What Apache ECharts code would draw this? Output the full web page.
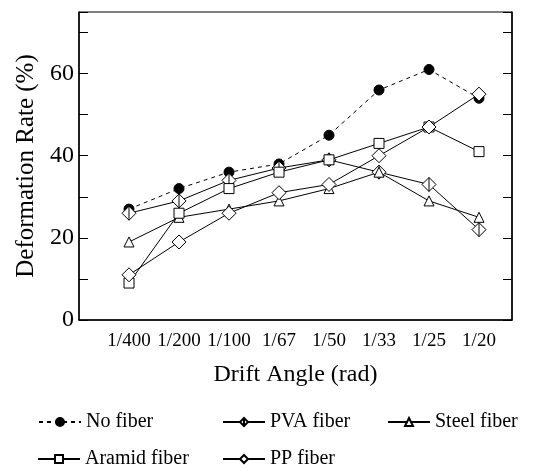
<!DOCTYPE html>
<html>
<head>
<meta charset="utf-8">
<script src="https://cdn.jsdelivr.net/npm/echarts@6/dist/echarts.min.js"></script>
<style>
html,body{margin:0;padding:0;background:#fff;}
#chart{width:558px;height:475px;}
</style>
</head>
<body>
<div id="chart"></div>
<script>
// drift angle categories
var angles=['1/400','1/200','1/100','1/67','1/50','1/33','1/25','1/20'];
// deformation rate (%)
var noFiber=[27,32,36,38,45,56,61,54];
var pvaFiber=[26,29,34,37,39,36,33,22];
var steelFiber=[19,25,27,29,32,36,29,25];
var aramidFiber=[9,26,32,36,39,43,47,41];
var ppFiber=[11,19,26,31,33,40,47,55];
var yTicks=[0,20,40,60];

var FONT='Liberation Serif';
var pvaSym='path://M0,-10L10,0L0,10L-10,0Z M0,-10L0,10';

function pts(arr){
	var r=[];
	for(var i=0;i<arr.length;i++){ r.push([i,arr[i]]); }
	return r;
}
function ser(name,arr,sym,size,fill,dash){
	return {
		name:name,type:'line',data:pts(arr),
		symbol:sym,symbolSize:size,showAllSymbol:true,
		lineStyle:{color:'#000',width:1,type:dash?[4,4]:'solid'},
		itemStyle:{color:fill,borderColor:'#000',borderWidth:1},
		emphasis:{disabled:true},animation:false
	};
}
function leg(name,left,top){
	return {
		data:[name],left:left,top:top,itemWidth:42,itemHeight:10,padding:0,
		textStyle:{fontFamily:FONT,fontSize:20,color:'#000'},
		selectedMode:false
	};
}

var chart=echarts.init(document.getElementById('chart'));
chart.setOption({
	backgroundColor:'#fff',
	animation:false,
	grid:{left:79,right:46,top:12,bottom:155,show:true,borderColor:'#000',borderWidth:1},
	legend:[
		leg('No fiber',38,412),
		leg('PVA fiber',222,412),
		leg('Steel fiber',387,412),
		leg('Aramid fiber',37,449),
		leg('PP fiber',222,449)
	],
	xAxis:{
		type:'value',min:-1,max:7.66,interval:1,
		name:'Drift Angle (rad)',nameLocation:'middle',nameGap:43,
		nameTextStyle:{fontFamily:FONT,fontSize:24,color:'#000'},
		axisLine:{onZero:false,lineStyle:{color:'#000',width:1.5}},
		axisTick:{show:false},splitLine:{show:false},
		axisLabel:{fontFamily:FONT,fontSize:19,color:'#000',margin:12,
			formatter:function(v){return angles[v]||'';}}
	},
	yAxis:[{
		type:'value',min:0,max:75,interval:10,
		name:'Deformation Rate (%)',nameLocation:'middle',nameGap:35,
		nameTextStyle:{fontFamily:FONT,fontSize:25,color:'#000'},
		axisLine:{show:true,onZero:false,lineStyle:{color:'#000',width:1.5}},
		axisTick:{show:true,inside:true,length:9,lineStyle:{color:'#000'}},
		splitLine:{show:false},showMaxLabel:false,
		axisLabel:{fontFamily:FONT,fontSize:24,color:'#000',margin:5,
			formatter:function(v){return yTicks.indexOf(v)>=0?String(v):'';}}
	},{
		type:'value',min:0,max:75,interval:10,position:'right',
		axisLine:{show:true,onZero:false,lineStyle:{color:'#000',width:1.5}},
		axisTick:{show:true,inside:true,length:9,lineStyle:{color:'#000'}},
		splitLine:{show:false},axisLabel:{show:false}
	}],
	series:[
		ser('No fiber',noFiber,'circle',10,'#000',true),
		ser('PVA fiber',pvaFiber,pvaSym,14,'#fff',false),
		ser('Steel fiber',steelFiber,'triangle',10,'#fff',false),
		ser('Aramid fiber',aramidFiber,'rect',10,'#fff',false),
		ser('PP fiber',ppFiber,'diamond',14,'#fff',false)
	]
});
</script>
</body>
</html>
